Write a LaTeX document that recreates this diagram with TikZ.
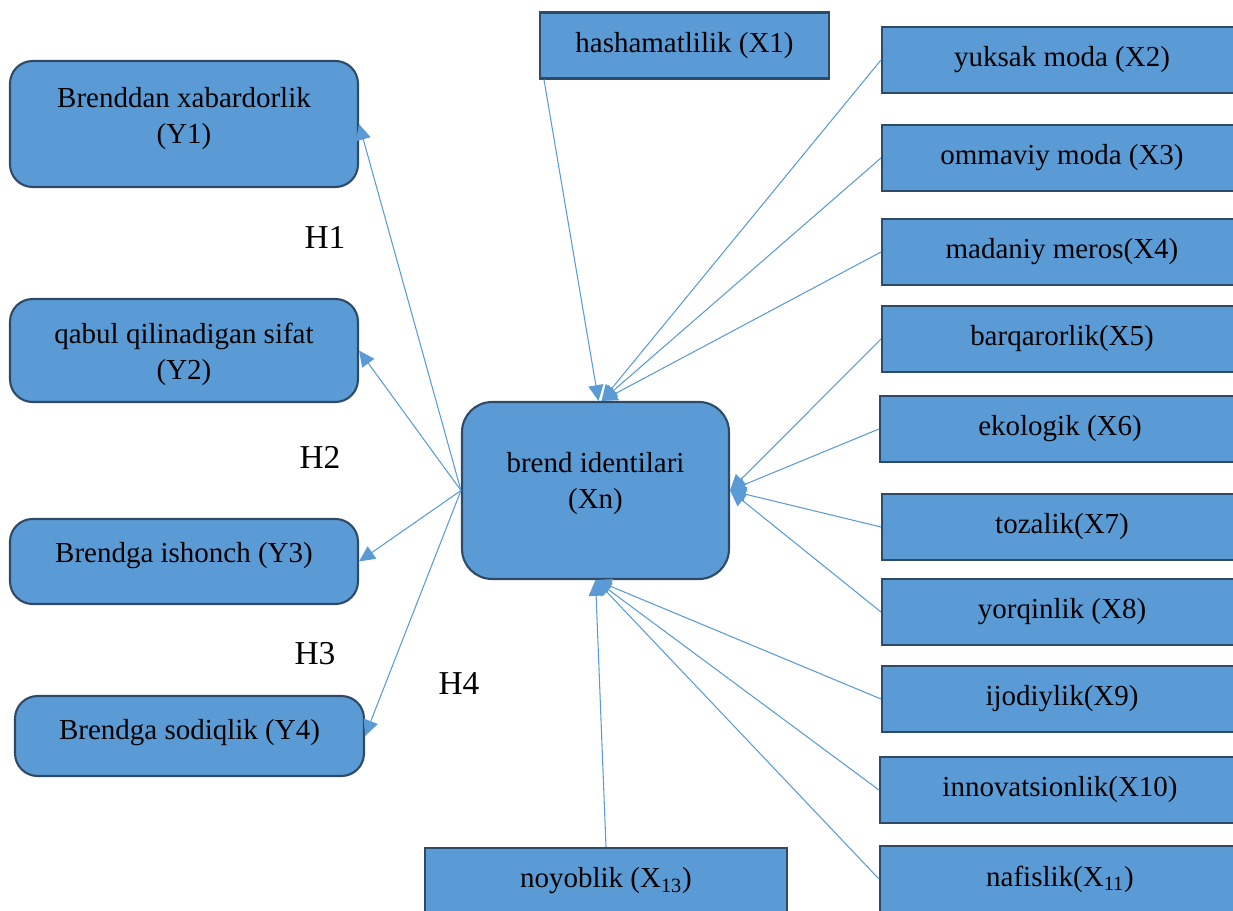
\documentclass[tikz,border=0pt]{standalone}
\usepackage{fontspec}
\setmainfont{Liberation Serif}
\usetikzlibrary{arrows.meta}
\definecolor{boxblue}{HTML}{5B9BD5}
\definecolor{boxedge}{HTML}{2E4A66}
\tikzset{
  boxtext/.style={font=\fontsize{16.5}{20.5}\selectfont, align=center, inner sep=0pt},
  ybox/.style={boxtext, draw=boxedge, line width=1.2pt, fill=boxblue, rounded corners=0.45cm, minimum width=6.96cm},
  xbox/.style={boxtext, draw=boxedge, line width=1.2pt, fill=boxblue, minimum width=7.2cm, minimum height=1.32cm},
  hlabel/.style={font=\fontsize{19}{22}\selectfont, inner sep=0pt},
  link/.style={draw=boxblue, line width=0.6pt, -{Triangle[length=9pt,width=8.5pt]}}
}
\begin{document}
\begin{tikzpicture}[x=0.02cm, y=-0.02cm]
  \useasboundingbox (0,0) rectangle (1233,911);

  % outcomes (left)
  \node[ybox, minimum height=2.52cm, text depth=10pt] (y1) at (184,124) {Brenddan xabardorlik\\(Y1)};
  \node[ybox, minimum height=2.06cm, text height=37pt] (y2) at (184,350.5) {qabul qilinadigan sifat\\(Y2)};
  \node[ybox, minimum height=1.70cm, text depth=10pt] (y3) at (184,561.5) {Brendga ishonch (Y3)};
  \node[ybox, minimum height=1.60cm, minimum width=6.98cm, text depth=7pt] (y4) at (189.5,736) {Brendga sodiqlik (Y4)};

  % hub
  \node[ybox, rounded corners=0.6cm, minimum width=5.34cm, minimum height=3.54cm, text depth=11pt] (c) at (595.5,490.5) {brend identilari\\(Xn)};

  % identity items (right)
  \node[xbox, minimum width=5.78cm] (x1) at (684.5,45.5) {hashamatlilik (X1)};
  \node[xbox] (x2) at (1062,60) {yuksak moda (X2)};
  \node[xbox] (x3) at (1062,158) {ommaviy moda (X3)};
  \node[xbox] (x4) at (1062,252) {madaniy meros(X4)};
  \node[xbox] (x5) at (1062,339) {barqarorlik(X5)};
  \node[xbox] (x6) at (1060,429) {ekologik (X6)};
  \node[xbox] (x7) at (1062,527) {tozalik(X7)};
  \node[xbox] (x8) at (1062,612) {yorqinlik (X8)};
  \node[xbox] (x9) at (1062,699) {ijodiylik(X9)};
  \node[xbox] (x10) at (1060,790) {innovatsionlik(X10)};
  \node[xbox] (x11) at (1060,879) {nafislik(X\textsubscript{11})};
  \node[xbox, minimum width=7.24cm] (x13) at (606,881) {noyoblik (X\textsubscript{13})};

  % hypothesis labels
  \node[hlabel] (h1) at (325,237) {H1};
  \node[hlabel] (h2) at (320,457) {H2};
  \node[hlabel] (h3) at (315,654) {H3};
  \node[hlabel] (h4) at (459,684) {H4};

  \foreach \y in {y1,y2,y3,y4}
    \draw[link] (c.west) -- (\y.east);

  \draw[link] ([xshift=0.1cm]x1.south west) -- ([xshift=0.06cm]c.north);
  \foreach \x in {x2,x3,x4}
    \draw[link] (\x.west) -- ([xshift=0.12cm]c.north);
  \foreach \x in {x5,x6,x7,x8}
    \draw[link] (\x.west) -- (c.east);
  \foreach \x in {x9,x10,x11}
    \draw[link] (\x.west) -- (c.south);
  \draw[link] (x13.north) -- (c.south);
\end{tikzpicture}
\end{document}
